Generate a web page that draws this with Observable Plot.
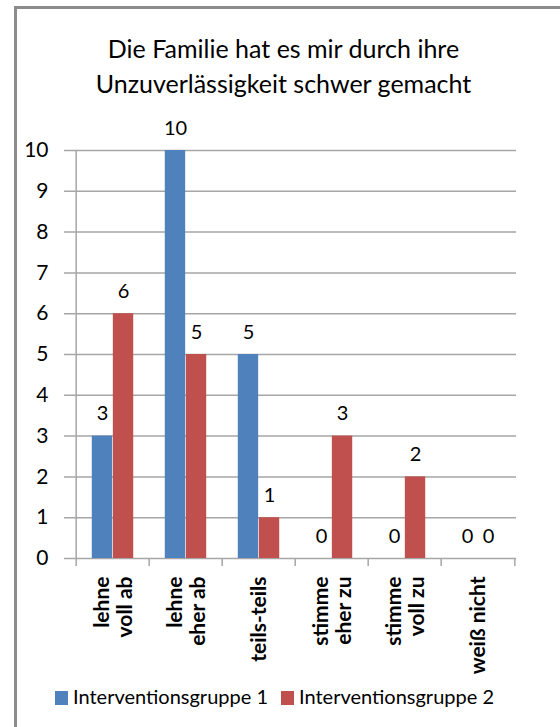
<!DOCTYPE html>
<html>
<head>
<meta charset="utf-8">
<script src="https://cdn.jsdelivr.net/npm/d3@7"></script>
<script src="https://cdn.jsdelivr.net/npm/@observablehq/plot@0.6"></script>
<style>
  html, body { margin: 0; padding: 0; background: #fff; }
  body { width: 560px; height: 727px; position: relative; overflow: hidden; font-family: Lato, "Noto Sans", sans-serif; color: #000; }
  #frame { position: absolute; left: 14px; top: 6px; width: 700px; height: 900px; border-left: 3px solid #8c8c8c; border-top: 3px solid #8c8c8c; box-sizing: border-box; }
  #title { position: absolute; left: 17px; width: 533px; top: 31px; text-align: center; font-size: 25px; line-height: 35px; }
  #chart { position: absolute; left: 0; top: 0; }
  .leg { position: absolute; top: 682px; font-size: 20px; line-height: 28px; white-space: nowrap; }
  .sw { display: inline-block; width: 13px; height: 14px; vertical-align: -1px; margin-right: 5px; }
</style>
</head>
<body>
<div id="chart"></div>
<div id="frame"></div>
<div id="title">Die Familie hat es mir durch ihre<br>Unzuverlässigkeit schwer gemacht</div>
<div id="legend"></div>
<script>
// ---- data ----
const categories = ["lehne\nvoll ab", "lehne\neher ab", "teils-teils", "stimme\neher zu", "stimme\nvoll zu", "weiß nicht"];
const groups = ["Interventionsgruppe 1", "Interventionsgruppe 2"];
const group1Values = [3, 10, 5, 0, 0, 0];
const group2Values = [6, 5, 1, 3, 2, 0];
const yTicks = [0, 1, 2, 3, 4, 5, 6, 7, 8, 9, 10];
const colors = ["#4F81BD", "#C0504D"];

// ---- layout ----
const W = 560, H = 727;
const ML = 74, MR = 44, MT = 150, MB = 169;
const bw = (W - ML - MR) / categories.length;   // band width
const barW = bw / 3.5;                           // Excel gap width 150%
const outer = 0.75 * barW;

const rows1 = categories.map((c, i) => ({cat: c, value: group1Values[i]}));
const rows2 = categories.map((c, i) => ({cat: c, value: group2Values[i]}));

const grid = "#a6a6a6";

const plot = Plot.plot({
  width: W, height: H,
  marginLeft: ML, marginRight: MR, marginTop: MT, marginBottom: MB,
  style: {background: "transparent", fontFamily: "Lato, 'Noto Sans', sans-serif", color: "#000"},
  x: {type: "band", domain: categories, padding: 0, axis: null},
  y: {domain: [0, 10], axis: null},
  marks: [
    Plot.ruleY(yTicks, {stroke: grid, strokeWidth: 1.5, insetLeft: -10}),
    Plot.ruleX([categories[0]], {y1: 10, y2: 0, stroke: grid, strokeWidth: 1.5, dx: -bw / 2, insetBottom: -8}),
    Plot.ruleX(categories.slice(1), {y1: 0, y2: 0, stroke: grid, strokeWidth: 1.5, dx: -bw / 2, insetBottom: -8}),
    Plot.ruleX([categories[categories.length - 1]], {y1: 0, y2: 0, stroke: grid, strokeWidth: 1.5, dx: bw / 2, insetBottom: -8}),
    Plot.barY(rows1, {x: "cat", y: "value", fill: colors[0], insetLeft: outer, insetRight: bw - outer - barW}),
    Plot.barY(rows2, {x: "cat", y: "value", fill: colors[1], insetLeft: outer + barW, insetRight: outer}),
    Plot.text(rows1, {x: "cat", y: "value", text: d => String(d.value), dx: -barW / 2, dy: -16, lineAnchor: "bottom", fontSize: 20, fill: "#000"}),
    Plot.text(rows2, {x: "cat", y: "value", text: d => String(d.value), dx: barW / 2, dy: -16, lineAnchor: "bottom", fontSize: 20, fill: "#000"}),
    Plot.axisY(yTicks, {label: null, tickSize: 0, tickPadding: 26, fontSize: 21, fill: "#000", tickFormat: d => String(d)}),
    Plot.text(categories, {x: d => d, y: 0, dy: 18, text: d => d, rotate: -90, textAnchor: "end", lineAnchor: "middle", lineHeight: 1.1, fontSize: 21, fontWeight: "bold", fill: "#000"})
  ]
});
document.getElementById("chart").appendChild(plot);

// ---- legend ----
const legend = document.getElementById("legend");
const legLeft = [55, 281];
groups.forEach((g, i) => {
  const d = document.createElement("div");
  d.className = "leg";
  d.style.left = legLeft[i] + "px";
  const sw = document.createElement("span");
  sw.className = "sw";
  sw.style.background = colors[i];
  d.appendChild(sw);
  d.appendChild(document.createTextNode(g));
  legend.appendChild(d);
});
</script>
</body>
</html>
